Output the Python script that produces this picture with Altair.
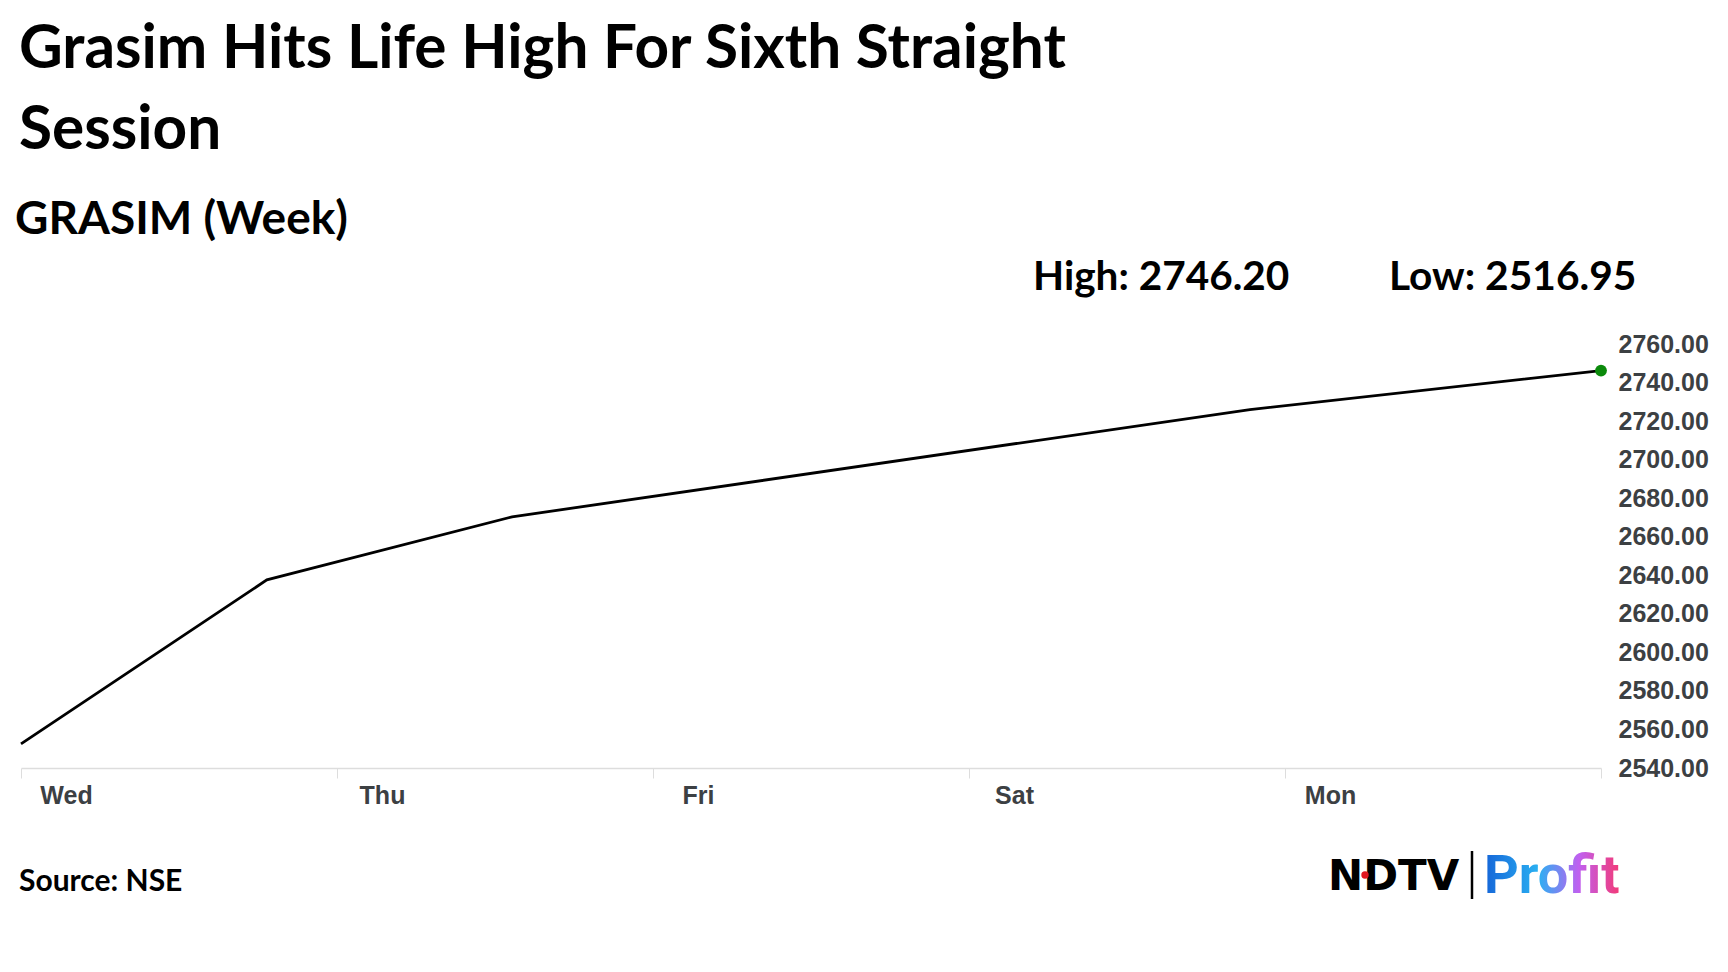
import altair as alt
import pandas as pd

# ---- data ----
day_labels = ["Wed", "Thu", "Fri", "Sat", "Mon", ""]
day_ticks = [0, 1, 2, 3, 4, 5]
x_pos = [0.0, 0.778, 1.554, 3.889, 5.0]
price = [2552.5, 2637.6, 2670.3, 2726.0, 2746.2]
y_ticks = [2540, 2560, 2580, 2600, 2620, 2640, 2660, 2680, 2700, 2720, 2740, 2760]
title_lines = ["Grasim Hits Life High For Sixth Straight", "Session"]
subtitle = "GRASIM (Week)"
high_value = 2746.20
low_value = 2516.95
source_text = "Source: NSE"
logo_left = "NDTV"
logo_right = "Profit"

df = pd.DataFrame({"x": x_pos, "price": price})
last = df.tail(1)
one = pd.DataFrame({"k": [0]})

W, H = 1580, 424
x_scale = alt.Scale(domain=[0, 5], nice=False, zero=False)
y_scale = alt.Scale(domain=[2540, 2760], nice=False, zero=False)
label_expr = "[" + ",".join("'%s'" % d for d in day_labels) + "][datum.value]"

AX_LABEL = dict(labelFont="Liberation Sans", labelFontSize=25, labelFontWeight="bold",
                labelColor="#3c4043")

x_axis = alt.Axis(
    values=day_ticks, labelExpr=label_expr, title=None, grid=False,
    domainColor="#dddddd", domainWidth=1.5, tickColor="#dddddd", tickSize=10,
    labelAlign="center", labelOffset=45, labelBaseline="middle", labelPadding=17,
    labelFlush=False, labelOverlap=False, **AX_LABEL)
y_axis = alt.Axis(
    orient="right", values=y_ticks, format=".2f", title=None, grid=False,
    domain=False, ticks=False, labelAlign="left", labelPadding=17,
    labelBaseline="middle", labelFlush=False, labelOverlap=False, **AX_LABEL)

line = alt.Chart(df).mark_line(color="black", strokeWidth=2.8).encode(
    x=alt.X("x:Q", scale=x_scale, axis=x_axis),
    y=alt.Y("price:Q", scale=y_scale, axis=y_axis),
)

dot = alt.Chart(last).mark_point(filled=True, color="#0b8a0b", size=140, opacity=1).encode(
    x=alt.X("x:Q", scale=x_scale, axis=x_axis),
    y=alt.Y("price:Q", scale=y_scale, axis=y_axis),
)

def txt(text, x, y, size, font="Lato", color="black", weight="bold", **kw):
    return alt.Chart(one).mark_text(
        text=text, font=font, fontSize=size, fontWeight=weight, color=color,
        align="left", baseline="alphabetic", **kw
    ).encode(x=alt.value(x), y=alt.value(y))

title_t = txt(title_lines, -2, -276, 60.3, lineHeight=81)
sub_t = txt(subtitle, -6, -110, 46)
high_t = txt("High: %.2f" % high_value, 1012, -54, 40.5)
low_t = txt("Low: %.2f" % low_value, 1368, -54, 40.7)
source_t = txt(source_text, -2, 547, 30)

ndtv_t = txt(logo_left, 1307, 546, 42, font="DejaVu Sans")
red_dot = alt.Chart(one).mark_point(filled=True, color="#e0161e", size=55, opacity=1).encode(
    x=alt.value(1344), y=alt.value(531))
bar = alt.Chart(one).mark_rule(color="black", strokeWidth=2.5).encode(
    x=alt.value(1451), y=alt.value(507), y2=alt.value(555))
grad = alt.LinearGradient(
    gradient="linear", x1=0, x2=1, y1=0, y2=0,
    stops=[alt.GradientStop(color="#1565d8", offset=0),
           alt.GradientStop(color="#2ab0f2", offset=0.4),
           alt.GradientStop(color="#c060f0", offset=0.7),
           alt.GradientStop(color="#f23a78", offset=1)])
profit_t = alt.Chart(one).mark_text(
    text=logo_right, font="Roboto", fontSize=54, fontWeight="bold", color=grad,
    align="left", baseline="alphabetic").encode(x=alt.value(1463), y=alt.value(549))

chart = alt.layer(
    line, dot, title_t, sub_t, high_t, low_t, source_t, ndtv_t, red_dot, bar, profit_t
).properties(
    width=W, height=H,
    background="white",
    autosize=alt.AutoSizeParams(type="none"),
    padding={"left": 13, "top": 336, "right": 118, "bottom": 190},
).configure_view(stroke=None)

chart.save("out.html", embed_options={"renderer": "svg", "actions": False})
